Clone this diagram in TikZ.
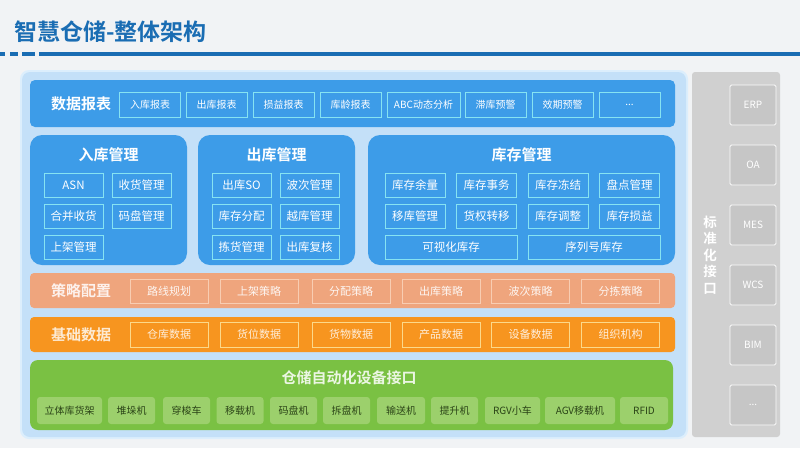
\documentclass[tikz,border=0pt]{standalone}
\usepackage{fontspec}
\setmainfont{Noto Sans CJK SC}
\newfontfamily\cjkb{Noto Sans CJK SC Bold}
\usetikzlibrary{positioning}
\definecolor{titleblue}{HTML}{1A6DB3}
\definecolor{bgc}{HTML}{F1F3F5}
\definecolor{panelc}{HTML}{C4E0F8}
\definecolor{panelb}{HTML}{DCEEFC}
\definecolor{blueb}{HTML}{3D9CE8}
\definecolor{cyanl}{HTML}{86E3F2}
\definecolor{salmon}{HTML}{EFA57D}
\definecolor{salmonl}{HTML}{F8CDB2}
\definecolor{orangec}{HTML}{F7951F}
\definecolor{orangel}{HTML}{FCD98A}
\definecolor{greenc}{HTML}{7AC143}
\definecolor{greenl}{HTML}{9CD06C}
\definecolor{greyc}{HTML}{D0D0D0}
\definecolor{greyb}{HTML}{C6C6C6}
\tikzset{
  rbox/.style={draw=cyanl, line width=0.8pt, text=white, font=\fontsize{10}{11}\selectfont, inner sep=0pt, minimum height=25pt, minimum width=61pt},
  mbox/.style={draw=cyanl, line width=0.8pt, text=white, font=\fontsize{11.5}{12}\selectfont, inner sep=0pt, minimum height=24pt, minimum width=59pt},
  sbox/.style={draw=salmonl, line width=0.8pt, text=white!90!salmon, font=\fontsize{11}{12}\selectfont, inner sep=0pt, minimum height=24pt, minimum width=78pt},
  obox/.style={draw=orangel, line width=0.8pt, text=white!85!orangec, font=\fontsize{11}{12}\selectfont, inner sep=0pt, minimum height=25pt, minimum width=78pt},
  gbox/.style={fill=greenl, rounded corners=3pt, text=black!65!greenc, font=\fontsize{10}{11}\selectfont, inner sep=0pt, minimum height=27pt},
  ibox/.style={fill=greyb, draw=white!92!greyc, line width=0.8pt, rounded corners=1.5pt, text=white, font=\fontsize{10}{11}\selectfont, inner sep=0pt, minimum height=40pt, minimum width=46pt},
  lbl/.style={text=white, font=\cjkb\fontsize{15}{16}\selectfont, inner sep=0pt},
  mtitle/.style={text=white, font=\cjkb\fontsize{15}{16}\selectfont, inner sep=0pt},
}
\begin{document}
\begin{tikzpicture}[x=1pt,y=-1pt]
\fill[bgc] (0,0) rectangle (800,448);
\useasboundingbox (0,0) rectangle (800,448);
% title
\node[anchor=west, text=titleblue, font=\cjkb\fontsize{23}{24}\selectfont, inner sep=0pt] (title) at (14,32) {智慧仓储-整体架构};
\fill[titleblue] (0,52) rectangle (5,56);
\fill[titleblue] (10,52) rectangle (18,56);
\fill[titleblue] (22,52) rectangle (35,56);
\fill[titleblue] (39,52) rectangle (800,56);
% main panel
\fill[panelb, rounded corners=9pt] (20,70) rectangle (688,439);
\fill[panelc, rounded corners=8pt] (22,72) rectangle (686,437);
% data report bar
\fill[blueb, rounded corners=5pt] (30,80) rectangle (675,127);
\node[lbl] (lrep) at (81,103.5) {数据报表};
\node[rbox] (r1) at (150,104.5) {入库报表};
\node[rbox] (r2) at (216.5,104.5) {出库报表};
\node[rbox] (r3) at (283.5,104.5) {损益报表};
\node[rbox] (r4) at (350.5,104.5) {库龄报表};
\node[rbox, minimum width=73pt] (r5) at (423.5,104.5) {ABC动态分析};
\node[rbox] (r6) at (495.5,104.5) {滞库预警};
\node[rbox] (r7) at (562.5,104.5) {效期预警};
\node[rbox] (r8) at (629.5,104.5) {...};
% management panels
\fill[blueb, rounded corners=12pt] (30,135) rectangle (187,265);
\fill[blueb, rounded corners=12pt] (198,135) rectangle (355,265);
\fill[blueb, rounded corners=12pt] (368,135) rectangle (675,265);
\node[mtitle] (tin) at (108.5,155) {入库管理};
\node[mtitle] (tout) at (276.5,155) {出库管理};
\node[mtitle] (tinv) at (521.5,155) {库存管理};
\node[mbox] (a1) at (73.5,185) {ASN};
\node[mbox] (a2) at (141.5,185) {收货管理};
\node[mbox] (a3) at (73.5,216) {合并收货};
\node[mbox] (a4) at (141.5,216) {码盘管理};
\node[mbox] (a5) at (73.5,247) {上架管理};
\node[mbox] (b1) at (241.5,185) {出库SO};
\node[mbox] (b2) at (309.5,185) {波次管理};
\node[mbox] (b3) at (241.5,216) {库存分配};
\node[mbox] (b4) at (309.5,216) {越库管理};
\node[mbox] (b5) at (241.5,247) {拣货管理};
\node[mbox] (b6) at (309.5,247) {出库复核};
\node[mbox, minimum width=60pt] (c1) at (415,185) {库存余量};
\node[mbox, minimum width=60pt] (c2) at (486.5,185) {库存事务};
\node[mbox, minimum width=60pt] (c3) at (558,185) {库存冻结};
\node[mbox, minimum width=60pt] (c4) at (629.5,185) {盘点管理};
\node[mbox, minimum width=60pt] (c5) at (415,216) {移库管理};
\node[mbox, minimum width=60pt] (c6) at (486.5,216) {货权转移};
\node[mbox, minimum width=60pt] (c7) at (558,216) {库存调整};
\node[mbox, minimum width=60pt] (c8) at (629.5,216) {库存损益};
\node[mbox, minimum width=132pt] (c9) at (451,247) {可视化库存};
\node[mbox, minimum width=132pt] (c10) at (594,247) {序列号库存};
% strategy bar
\fill[salmon, rounded corners=4pt] (30,273) rectangle (675,308);
\node[lbl, text=white!85!salmon] (lstr) at (81,291) {策略配置};
\node[sbox] (s1) at (169,291) {路线规划};
\node[sbox] (s2) at (259,291) {上架策略};
\node[sbox] (s3) at (351,291) {分配策略};
\node[sbox] (s4) at (441,291) {出库策略};
\node[sbox] (s5) at (530.5,291) {波次策略};
\node[sbox] (s6) at (620.5,291) {分拣策略};
% foundation bar
\fill[orangec, rounded corners=4pt] (30,317) rectangle (675,352);
\node[lbl, text=white!80!orangec] (lbas) at (81,334.5) {基础数据};
\node[obox] (o1) at (169,334.5) {仓库数据};
\node[obox] (o2) at (259,334.5) {货位数据};
\node[obox] (o3) at (351,334.5) {货物数据};
\node[obox] (o4) at (441,334.5) {产品数据};
\node[obox] (o5) at (530.5,334.5) {设备数据};
\node[obox] (o6) at (620.5,334.5) {组织机构};
% equipment bar
\fill[greenc, rounded corners=8pt] (30,360) rectangle (673,430);
\node[lbl, text=white!85!greenc] (lequ) at (349,378) {仓储自动化设备接口};
\node[gbox, minimum width=65pt] (g1) at (69.5,410.5) {立体库货架};
\node[gbox, minimum width=47pt] (g2) at (131.5,410.5) {堆垛机};
\node[gbox, minimum width=47pt] (g3) at (186.5,410.5) {穿梭车};
\node[gbox, minimum width=47pt] (g4) at (240,410.5) {移载机};
\node[gbox, minimum width=47pt] (g5) at (293.5,410.5) {码盘机};
\node[gbox, minimum width=47pt] (g6) at (346.5,410.5) {拆盘机};
\node[gbox, minimum width=48pt] (g7) at (401,410.5) {输送机};
\node[gbox, minimum width=47pt] (g8) at (454.5,410.5) {提升机};
\node[gbox, minimum width=55pt] (g9) at (512.5,410.5) {RGV小车};
\node[gbox, minimum width=70pt] (g10) at (580,410.5) {AGV移载机};
\node[gbox, minimum width=48pt] (g11) at (644,410.5) {RFID};
% interface panel
\fill[greyc, rounded corners=3pt] (692,72) rectangle (780,437);
\node[text=white, font=\cjkb\fontsize{13.5}{16.5}\selectfont, align=center, inner sep=0pt] (lint) at (710,255) {标\\准\\化\\接\\口};
\node[ibox] (i1) at (753,105) {ERP};
\node[ibox] (i2) at (753,165) {OA};
\node[ibox] (i3) at (753,225) {MES};
\node[ibox] (i4) at (753,285) {WCS};
\node[ibox] (i5) at (753,345) {BIM};
\node[ibox] (i6) at (753,405) {...};
\end{tikzpicture}
\end{document}
